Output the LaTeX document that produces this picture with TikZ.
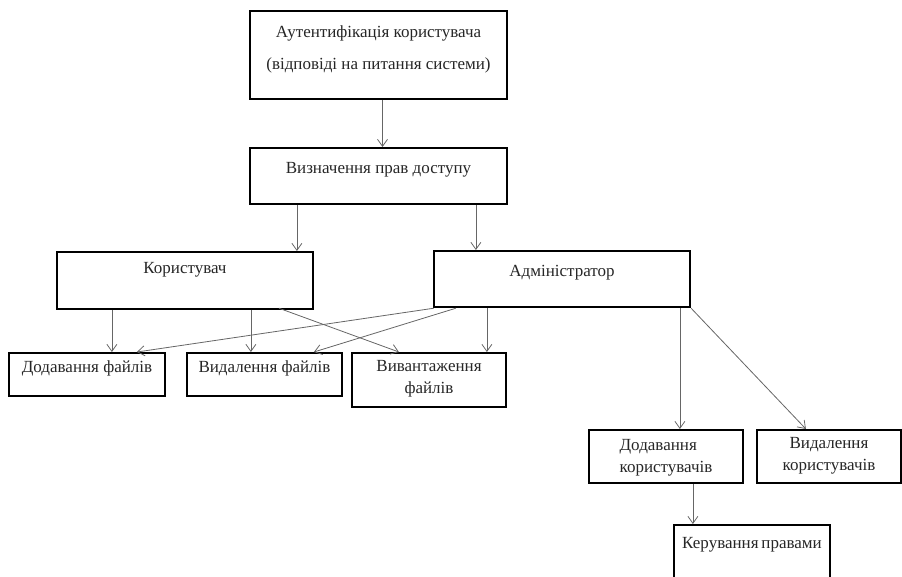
\documentclass[tikz,border=0pt]{standalone}
\usepackage{fontspec}
\setmainfont{Liberation Serif}
\usepackage{tikz}
\usetikzlibrary{arrows.meta}

\begin{document}
\begin{tikzpicture}[x=1pt,y=-1pt,
	box/.style={draw,line width=2.2pt,anchor=north,inner xsep=2pt,inner ysep=0pt,align=center,font=\fontsize{17}{21.5}\selectfont,text=black!85},
	arr/.style={draw=black!60,line width=0.8pt,-{Straight Barb[length=7pt,width=10pt]}}]
	\clip (0,0) rectangle (902,576);
	% ступені доступу
	\node[box,minimum width=257pt,text height=58pt,text depth=30pt] (auth) at (378.5,10) {Аутентифікація користувача\\[10.5pt](відповіді на питання системи)};
	\node[box,minimum width=257pt,text height=25pt,text depth=31pt] (defn) at (378.5,147) {Визначення прав доступу};
	\node[box,minimum width=256pt,text height=21pt,text depth=36pt] (user) at (185,251) {Користувач};
	\node[box,minimum width=256pt,text height=25pt,text depth=31pt] (admin) at (562,250) {Адміністратор};
	% дії з файлами
	\node[box,minimum width=156pt,text height=19pt,text depth=24pt] (addf) at (87,352) {Додавання файлів};
	\node[box,minimum width=155pt,text height=19pt,text depth=24pt] (delf) at (264.5,352) {Видалення файлів};
	\node[box,minimum width=154pt,text height=40pt,text depth=14pt] (upl) at (429,352) {Вивантаження\\файлів};
	% дії з користувачами
	\node[box,minimum width=154pt,text height=42pt,text depth=11pt,align=left] (addu) at (666,429) {Додавання\\користувачів};
	\node[box,minimum width=144pt,text height=40pt,text depth=13pt] (delu) at (829,429) {Видалення\\користувачів};
	\node[box,minimum width=156pt,text height=23pt,text depth=50pt] (ker) at (752,524) {Керування\,правами};

	\coordinate (d1) at ([xshift=48pt]defn.south west);
	\coordinate (d2) at ([xshift=227pt]defn.south west);
	\coordinate (u1) at ([xshift=56pt]user.south west);
	\coordinate (u2) at ([xshift=195pt]user.south west);
	\coordinate (a1) at ([xshift=54pt]admin.south west);
	\coordinate (a2) at ([xshift=247pt]admin.south west);
	\coordinate (k1) at ([xshift=105pt]addu.south west);

	\draw[arr] ([xshift=4pt]auth.south) -- ([xshift=4pt]defn.north);
	\draw[arr] (d1) -- (d1 |- user.north);
	\draw[arr] (d2) -- (d2 |- admin.north);
	\draw[arr] (u1) -- (u1 |- addf.north);
	\draw[arr] (u2) -- (u2 |- delf.north);
	\draw[arr] ([xshift=223pt,yshift=2pt]user.south west) -- ([xshift=48pt]upl.north west);
	\draw[arr] ([xshift=1pt]admin.south west) -- ([xshift=129pt]addf.north west);
	\draw[arr] ([xshift=23pt]admin.south west) -- ([xshift=128pt]delf.north west);
	\draw[arr] (a1) -- (a1 |- upl.north);
	\draw[arr] (a2) -- (a2 |- addu.north);
	\draw[arr] (admin.south east) -- ([xshift=50pt]delu.north west);
	\draw[arr] (k1) -- (k1 |- ker.north);
\end{tikzpicture}
\end{document}
